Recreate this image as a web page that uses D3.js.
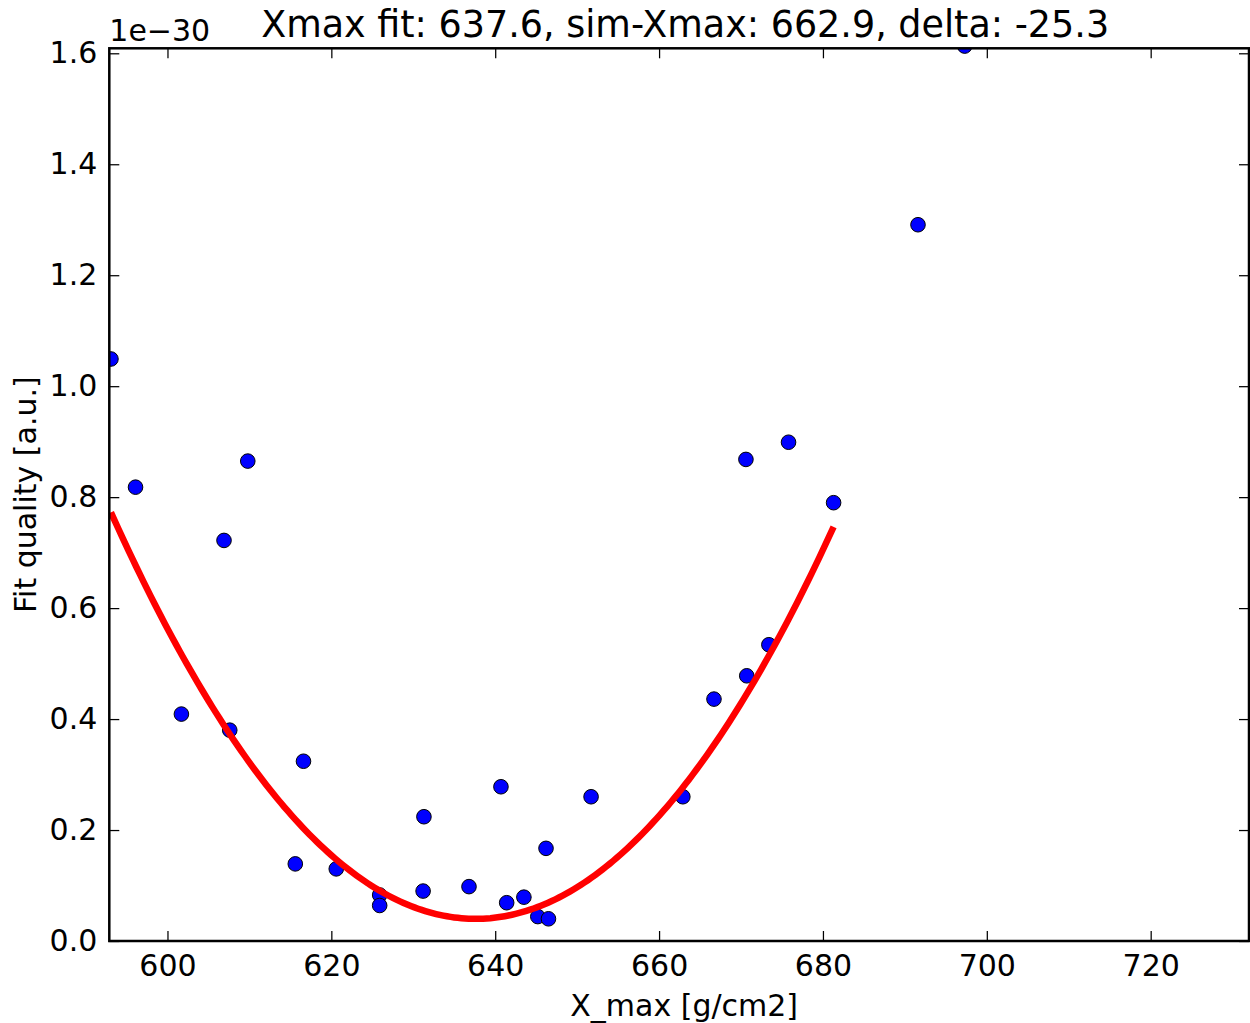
<!DOCTYPE html>
<html><head><meta charset="utf-8">
<script src="https://cdn.jsdelivr.net/npm/d3@7"></script>
<style>body{margin:0;background:#fff}svg{display:block}text{font-family:"DejaVu Sans",sans-serif;fill:#000}</style>
</head><body>
<svg id="c" width="1250" height="1023"></svg>
<script>
const xmaxValues = [593.1,596.1,601.7,606.9,607.6,609.8,615.6,616.6,620.6,625.9,625.9,631.2,631.3,636.8,640.7,641.4,643.5,645.2,646.2,646.5,651.7,662.9,666.7,670.6,670.7,673.4,675.8,681.3,691.6,697.3];
const fitQuality = [1.049,0.818,0.409,0.722,0.380,0.865,0.139,0.324,0.130,0.083,0.064,0.090,0.224,0.098,0.278,0.069,0.079,0.044,0.167,0.040,0.260,0.260,0.436,0.868,0.478,0.534,0.899,0.790,1.291,1.613];
// parabola fit: a*(x-x0)^2 + c
const fitCoeffs = [3.70e-4, 637.6, 0.040];
const fitRange = [593.1, 681.3];
const xTicks = [600,620,640,660,680,700,720];
const yTicks = [0.0,0.2,0.4,0.6,0.8,1.0,1.2,1.4,1.6];
const xDomain = [592.9, 732.0];
const yDomain = [0, 1.609];
const titleText = "Xmax fit: 637.6, sim-Xmax: 662.9, delta: -25.3";
const xLabel = "X_max [g/cm2]";
const yLabel = "Fit quality [a.u.]";
const offsetText = "1e\u221230";

const L=109.3, R=1249, T=48.3, B=941;
const svg = d3.select("#c");
const x = d3.scaleLinear().domain(xDomain).range([L,R]);
const y = d3.scaleLinear().domain(yDomain).range([B,T]);

svg.append("clipPath").attr("id","clip").append("rect")
  .attr("x",L).attr("y",T).attr("width",R-L).attr("height",B-T);

const plot = svg.append("g").attr("clip-path","url(#clip)");
plot.selectAll("circle").data(xmaxValues).join("circle")
  .attr("cx",d=>x(d)).attr("cy",(d,i)=>y(fitQuality[i]))
  .attr("r",7.3).attr("fill","#0000ff").attr("stroke","#000").attr("stroke-width",1);

const [a,x0,c0] = fitCoeffs;
const n = 200;
const curve = d3.range(n+1).map(i=>{const xv=fitRange[0]+(fitRange[1]-fitRange[0])*i/n; return [xv, a*(xv-x0)*(xv-x0)+c0];});
plot.append("path").datum(curve)
  .attr("d", d3.line().x(d=>x(d[0])).y(d=>y(d[1])))
  .attr("fill","none").attr("stroke","#ff0000").attr("stroke-width",6.5).attr("stroke-linecap","butt");

// axes
const tl = 10;
const axB = svg.append("g").attr("transform",`translate(0,${B})`)
  .call(d3.axisBottom(x).tickValues(xTicks).tickSizeInner(-tl).tickSizeOuter(0).tickPadding(12).tickFormat(d3.format("d")));
const axT = svg.append("g").attr("transform",`translate(0,${T})`)
  .call(d3.axisTop(x).tickValues(xTicks).tickSizeInner(-tl).tickSizeOuter(0).tickFormat(""));
const axL = svg.append("g").attr("transform",`translate(${L},0)`)
  .call(d3.axisLeft(y).tickValues(yTicks).tickSizeInner(-tl).tickSizeOuter(0).tickPadding(12).tickFormat(d3.format(".1f")));
const axR = svg.append("g").attr("transform",`translate(${R},0)`)
  .call(d3.axisRight(y).tickValues(yTicks).tickSizeInner(-tl).tickSizeOuter(0).tickFormat(""));
[axB,axT,axL,axR].forEach(g=>{
  g.select(".domain").remove();
  g.selectAll(".tick line").attr("stroke","#000").attr("stroke-width",1.25);
  g.selectAll(".tick text").attr("font-family","DejaVu Sans").attr("font-size",30).attr("fill","#000");
});
axB.selectAll(".tick text").attr("dy","0.75em");
svg.append("rect").attr("x",L).attr("y",T).attr("width",R-L).attr("height",B-T)
  .attr("fill","none").attr("stroke","#000").attr("stroke-width",2.5);

svg.append("text").attr("x",(L+R)/2+6).attr("y",37).attr("text-anchor","middle").attr("font-size",36.5).text(titleText);
svg.append("text").attr("x",L).attr("y",41).attr("text-anchor","start").attr("font-size",30).text(offsetText);
svg.append("text").attr("x",(L+R)/2+5).attr("y",1016).attr("text-anchor","middle").attr("font-size",30).text(xLabel);
svg.append("text").attr("transform",`translate(36,${(T+B)/2}) rotate(-90)`).attr("text-anchor","middle").attr("font-size",30).text(yLabel);
</script>
</body></html>
